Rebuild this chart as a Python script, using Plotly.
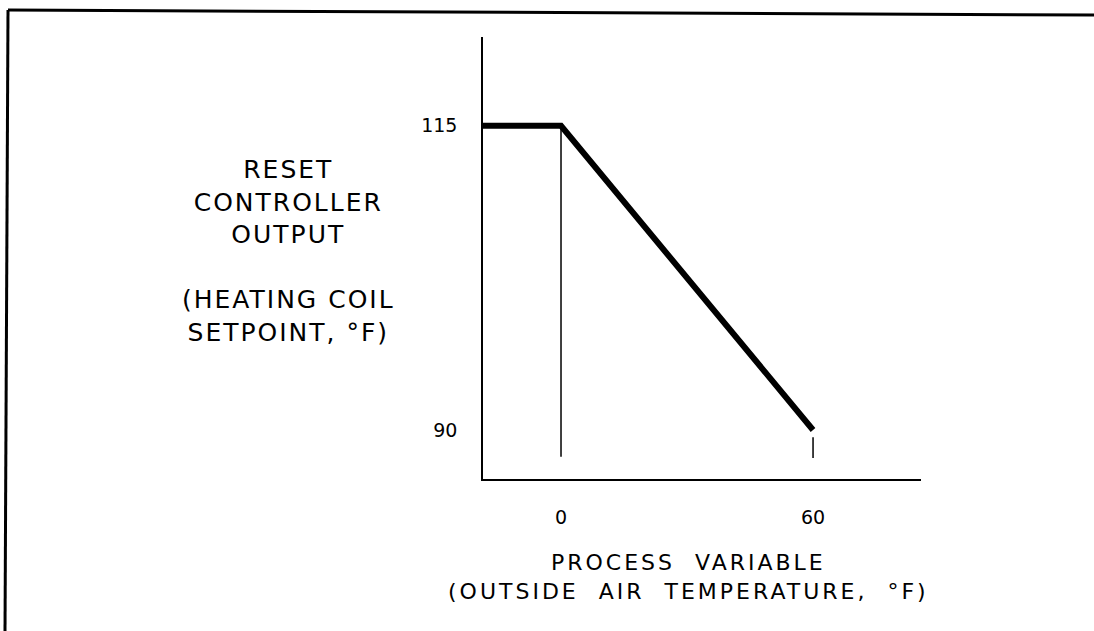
import plotly.graph_objects as go

# Reset schedule: heating coil setpoint vs outside air temperature
oat_points = [-18.6, 0, 60]          # outside air temperature, F
setpoint_points = [115, 115, 90]     # heating coil setpoint, F

# Reference drop lines at the two break points
drop0_x = [0, 0]
drop0_y = [115, 87.8]
drop60_x = [60, 60]
drop60_y = [89.4, 87.7]

x_tick_vals = [0, 60]
x_tick_text = ["0", "60"]
y_tick_vals = [90, 115]
y_tick_text = ["90", "115"]

x_range = [-18.57, 85.7]
y_range = [85.97, 122.3]

y_title_lines = ["RESET", "CONTROLLER", "OUTPUT", " ", "(HEATING COIL", "SETPOINT, °F)"]
x_title_lines = ["PROCESS  VARIABLE", "(OUTSIDE  AIR  TEMPERATURE,  °F)"]

FONT = "DejaVu Sans"

fig = go.Figure()
fig.add_trace(go.Scatter(x=drop0_x, y=drop0_y, mode="lines",
                         line=dict(color="black", width=1.5), hoverinfo="skip"))
fig.add_trace(go.Scatter(x=drop60_x, y=drop60_y, mode="lines",
                         line=dict(color="black", width=1.5), hoverinfo="skip"))
fig.add_trace(go.Scatter(x=oat_points, y=setpoint_points, mode="lines",
                         line=dict(color="black", width=6), hoverinfo="skip"))

W, H = 1094, 631
L, R, T, B = 483, 921, 37, 479


def px(x):
    return (x - L) / (R - L)


def py(y):
    return (B - y) / (B - T)


def spaced(lines, spacing):
    # wide drafting-style lettering
    return "<br>".join(
        f'<span style="letter-spacing:{spacing}px">{s}</span>' for s in lines
    )


shapes = [
    # frame: top and left rules
    dict(type="line", xref="paper", yref="paper", x0=px(8), y0=py(10), x1=px(1094), y1=py(15),
         line=dict(color="black", width=3)),
    dict(type="line", xref="paper", yref="paper", x0=px(8), y0=py(10), x1=px(5), y1=py(631),
         line=dict(color="black", width=3)),
]

annotations = [
    dict(text=spaced(y_title_lines, 2),
         xref="paper", yref="paper", x=px(288), y=py(251), xanchor="center", yanchor="middle",
         showarrow=False, align="center", font=dict(family=FONT, size=25, color="black")),
    dict(text=spaced(x_title_lines, 3),
         xref="paper", yref="paper", x=px(688), y=py(577), xanchor="center", yanchor="middle",
         showarrow=False, align="center", font=dict(family=FONT, size=22, color="black")),
]

fig.update_layout(
    width=W, height=H,
    margin=dict(l=L, r=W - R, t=T, b=H - B, pad=0),
    paper_bgcolor="white", plot_bgcolor="white",
    showlegend=False,
    shapes=shapes,
    annotations=annotations,
    xaxis=dict(range=x_range, tickvals=x_tick_vals, ticktext=x_tick_text, showgrid=False,
               zeroline=False, showline=True, linecolor="black", linewidth=1.5, ticks="",
               ticklabelstandoff=20, tickfont=dict(family=FONT, size=19, color="black"),
               fixedrange=True),
    yaxis=dict(range=y_range, tickvals=y_tick_vals, ticktext=y_tick_text, showgrid=False,
               zeroline=False, showline=True, linecolor="black", linewidth=1.5, ticks="",
               ticklabelstandoff=20, tickfont=dict(family=FONT, size=19, color="black"),
               fixedrange=True),
)

fig.write_html("out.html", config={"displayModeBar": False})
